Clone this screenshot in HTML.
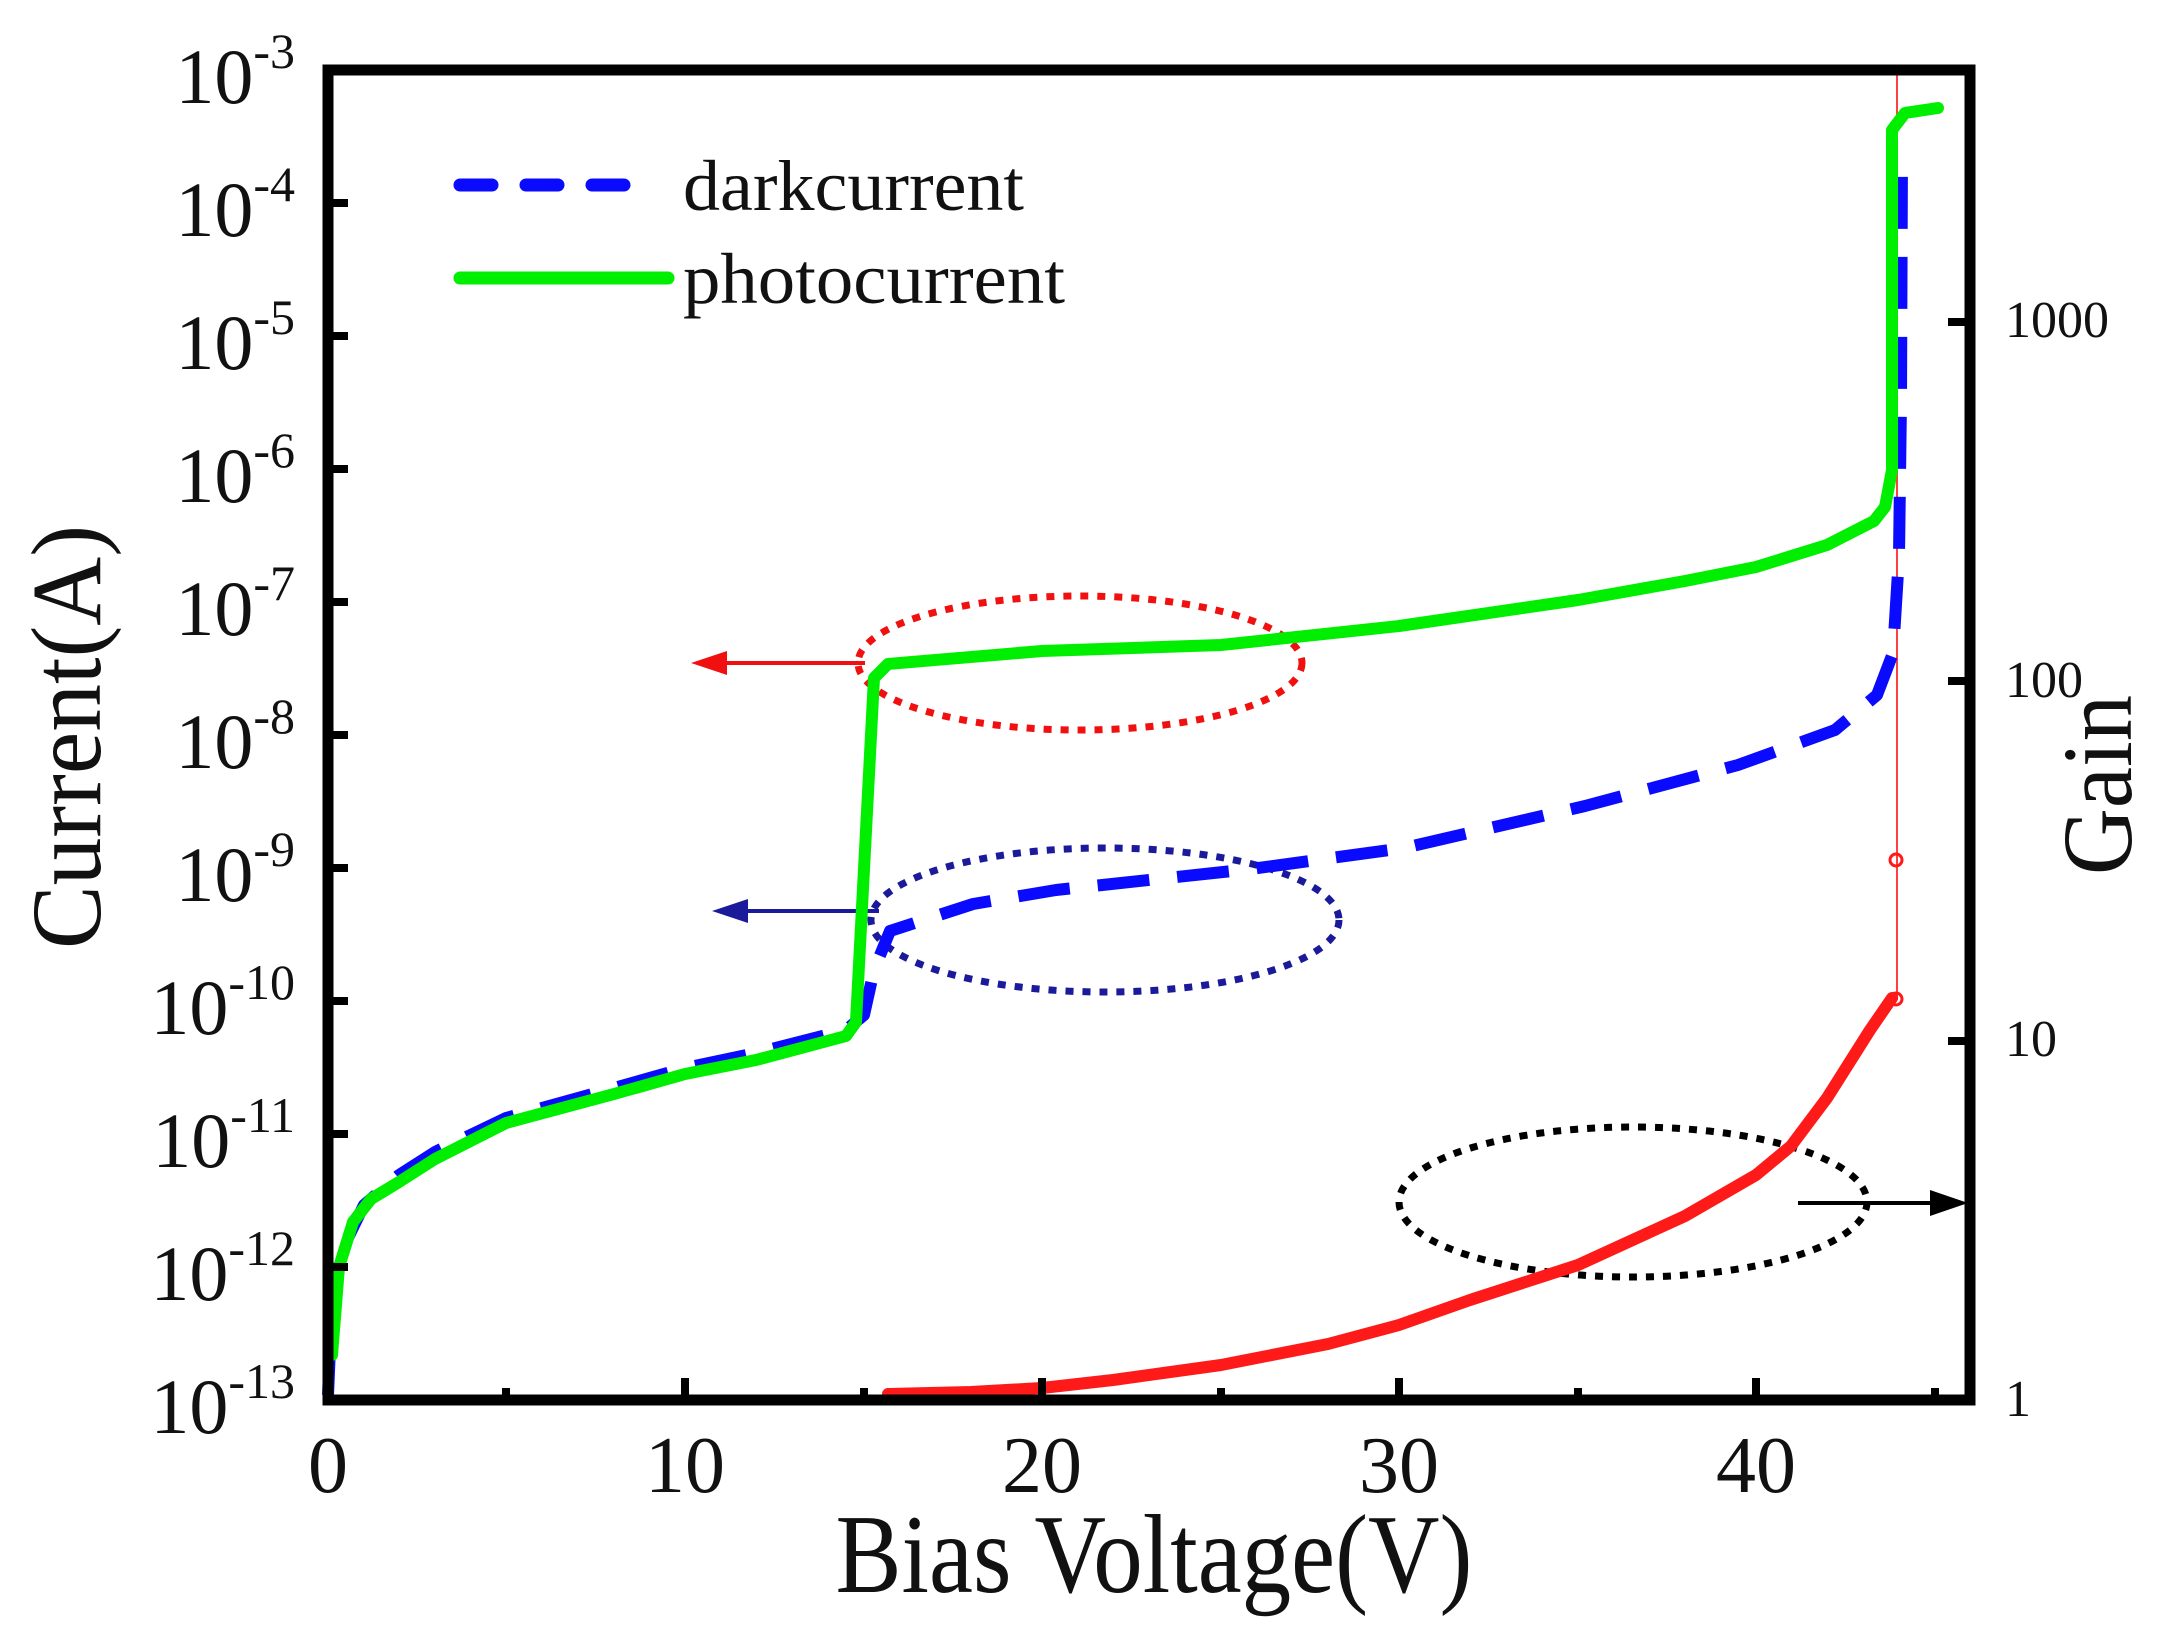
<!DOCTYPE html>
<html><head><meta charset="utf-8"><style>html,body{margin:0;padding:0;background:#fff}svg{display:block}</style></head>
<body>
<svg width="2169" height="1642" viewBox="0 0 2169 1642" xmlns="http://www.w3.org/2000/svg" font-family="'Liberation Serif', serif">
<rect width="2169" height="1642" fill="#fff"/>
<g fill="none" stroke-width="7" stroke-dasharray="8 9">
<ellipse cx="1080" cy="663" rx="222" ry="67" stroke="#f01010"/>
<ellipse cx="1105" cy="920" rx="234" ry="72" stroke="#1a1a9a"/>
<ellipse cx="1633" cy="1202" rx="234" ry="75" stroke="#000"/>
</g>
<line x1="865" y1="663" x2="715" y2="663" stroke="#f01010" stroke-width="4"/>
<polygon points="691,663 727,651 727,675" fill="#f01010"/>
<line x1="879" y1="911" x2="735" y2="911" stroke="#1a1a9a" stroke-width="4"/>
<polygon points="712,911 748,899 748,923" fill="#1a1a9a"/>
<line x1="1798" y1="1203" x2="1940" y2="1203" stroke="#000" stroke-width="4"/>
<polygon points="1968,1203 1930,1190 1930,1216" fill="#000"/>
<line x1="1897" y1="1000" x2="1897" y2="72" stroke="#ff4040" stroke-width="2"/>
<path d="M888,1394 L971,1392 L1042,1388 L1113,1380 L1221,1365 L1328,1344 L1399,1325 L1470,1300 L1578,1265 L1685,1216 L1756,1175 L1791,1146 L1827,1098 L1870,1030 L1892,998" fill="none" stroke="#ff1a1a" stroke-width="12" stroke-linecap="round" stroke-linejoin="round"/>
<circle cx="1896" cy="999" r="6" fill="none" stroke="#ff1a1a" stroke-width="3"/>
<circle cx="1896" cy="860" r="6" fill="none" stroke="#ff1a1a" stroke-width="3"/>
<path d="M328,1395 L332,1300 L342,1250 L364,1205 L399,1175 L435,1152 L506,1118 L614,1088 L685,1068 L756,1053 L846,1030 L864,1015 L874,970 L890,931 L973,904 L1056,890 L1251,869 L1404,848 L1585,806 L1738,765 L1835,730 L1877,695 L1893,653 L1899,556 L1901,400 L1902,150" fill="none" stroke="#0a0aff" stroke-width="12" stroke-dasharray="52 28" stroke-linejoin="round"/>
<path d="M332,1355 L339,1267 L353,1222 L371,1199 L399,1182 L435,1159 L506,1123 L614,1094 L685,1074 L756,1060 L846,1036 L856,1022 L874,678 L888,664 L1042,651 L1221,645 L1399,626 L1578,600 L1685,581 L1756,567 L1827,545 L1874,521 L1885,507 L1892,470 L1892,130 L1905,113 L1938,108" fill="none" stroke="#00ee00" stroke-width="12" stroke-linecap="round" stroke-linejoin="round"/>
<rect x="328" y="70" width="1642" height="1330" fill="none" stroke="#000" stroke-width="11"/>
<g stroke="#000" stroke-width="8">
<line x1="328" y1="1400" x2="328" y2="1378"/><line x1="685" y1="1400" x2="685" y2="1378"/><line x1="1042" y1="1400" x2="1042" y2="1378"/><line x1="1399" y1="1400" x2="1399" y2="1378"/><line x1="1756" y1="1400" x2="1756" y2="1378"/>
<line x1="506" y1="1400" x2="506" y2="1388"/><line x1="864" y1="1400" x2="864" y2="1388"/><line x1="1221" y1="1400" x2="1221" y2="1388"/><line x1="1578" y1="1400" x2="1578" y2="1388"/><line x1="1935" y1="1400" x2="1935" y2="1388"/>
<line x1="328" y1="203" x2="348" y2="203"/><line x1="328" y1="336" x2="348" y2="336"/><line x1="328" y1="469" x2="348" y2="469"/><line x1="328" y1="602" x2="348" y2="602"/><line x1="328" y1="735" x2="348" y2="735"/><line x1="328" y1="868" x2="348" y2="868"/><line x1="328" y1="1001" x2="348" y2="1001"/><line x1="328" y1="1134" x2="348" y2="1134"/><line x1="328" y1="1267" x2="348" y2="1267"/>
<line x1="1970" y1="1041" x2="1948" y2="1041"/><line x1="1970" y1="681" x2="1948" y2="681"/><line x1="1970" y1="322" x2="1948" y2="322"/>
</g>
<g font-size="78" fill="#111" text-anchor="end">
<text x="295" y="103">10<tspan dy="-35" font-size="50">-3</tspan></text>
<text x="295" y="236">10<tspan dy="-35" font-size="50">-4</tspan></text>
<text x="295" y="369">10<tspan dy="-35" font-size="50">-5</tspan></text>
<text x="295" y="502">10<tspan dy="-35" font-size="50">-6</tspan></text>
<text x="295" y="635">10<tspan dy="-35" font-size="50">-7</tspan></text>
<text x="295" y="768">10<tspan dy="-35" font-size="50">-8</tspan></text>
<text x="295" y="901">10<tspan dy="-35" font-size="50">-9</tspan></text>
<text x="295" y="1034">10<tspan dy="-35" font-size="50">-10</tspan></text>
<text x="295" y="1167">10<tspan dy="-35" font-size="50">-11</tspan></text>
<text x="295" y="1300">10<tspan dy="-35" font-size="50">-12</tspan></text>
<text x="295" y="1433">10<tspan dy="-35" font-size="50">-13</tspan></text>
</g>
<g font-size="80" fill="#111" text-anchor="middle">
<text x="328" y="1492">0</text><text x="685" y="1492">10</text><text x="1042" y="1492">20</text><text x="1399" y="1492">30</text><text x="1756" y="1492">40</text>
</g>
<g font-size="52" fill="#111">
<text x="2005" y="337">1000</text><text x="2005" y="697">100</text><text x="2005" y="1056">10</text><text x="2005" y="1416">1</text>
</g>
<text x="1154" y="1592" font-size="112" text-anchor="middle" textLength="637" lengthAdjust="spacingAndGlyphs" fill="#111">Bias Voltage(V)</text>
<text transform="translate(100,737) rotate(-90)" font-size="100" text-anchor="middle" textLength="424" lengthAdjust="spacingAndGlyphs" fill="#111">Current(A)</text>
<text transform="translate(2131,785) rotate(-90)" font-size="100" text-anchor="middle" textLength="180" lengthAdjust="spacingAndGlyphs" fill="#111">Gain</text>
<line x1="460" y1="185" x2="630" y2="185" stroke="#0a0aff" stroke-width="13" stroke-dasharray="32 34" stroke-linecap="round"/>
<line x1="460" y1="278" x2="668" y2="278" stroke="#00ee00" stroke-width="13" stroke-linecap="round"/>
<text x="683" y="210" font-size="72" textLength="341" lengthAdjust="spacingAndGlyphs" fill="#111">darkcurrent</text>
<text x="683" y="303" font-size="72" textLength="382" lengthAdjust="spacingAndGlyphs" fill="#111">photocurrent</text>
</svg>
</body></html>
